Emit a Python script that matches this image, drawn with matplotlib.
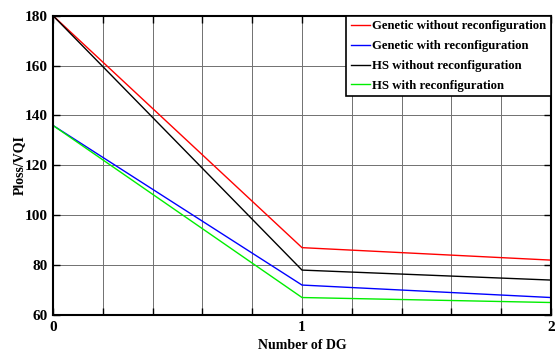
import numpy as np
import matplotlib
matplotlib.use('Agg')
import matplotlib.pyplot as plt

# --- data ---
num_dg = [0, 1, 2]
genetic_no_reconf = [180, 87, 82]
genetic_reconf = [136, 72, 67]
hs_no_reconf = [180, 78, 74]
hs_reconf = [136, 67, 65]

x_ticks = np.round(np.arange(0, 2.01, 0.2), 1)
x_tick_labels = ['0', '', '', '', '', '1', '', '', '', '', '2']
y_ticks = [60, 80, 100, 120, 140, 160, 180]

plt.rcParams['font.family'] = ['Liberation Serif', 'DejaVu Serif']
plt.rcParams['font.weight'] = 'bold'

fig = plt.figure(figsize=(5.58, 3.51), dpi=100)
ax = fig.add_axes([0.095, 0.1026, 0.8925, 0.8527])

ax.plot(num_dg, genetic_no_reconf, color='red', lw=1.0, label='Genetic without reconfiguration')
ax.plot(num_dg, genetic_reconf, color='blue', lw=1.0, label='Genetic with reconfiguration')
ax.plot(num_dg, hs_no_reconf, color='black', lw=1.0, label='HS without reconfiguration')
ax.plot(num_dg, hs_reconf, color='#00ee00', lw=1.0, label='HS with reconfiguration')

ax.set_xlim(0, 2)
ax.set_ylim(60, 180)
ax.set_xticks(x_ticks)
ax.set_xticklabels(x_tick_labels)
ax.set_yticks(y_ticks)
ax.grid(True, color='#707070', lw=0.7)
ax.tick_params(direction='in', top=True, right=True, length=5, width=1,
               labelsize=11, pad=4)
for lab in ax.get_xticklabels() + ax.get_yticklabels():
    lab.set_fontweight('bold')
for s in ax.spines.values():
    s.set_linewidth(1.5)

ax.set_xlabel('Number of DG', fontsize=10, fontweight='bold', labelpad=4)
ax.set_ylabel('Ploss/VQI', fontsize=10, fontweight='bold', labelpad=-1)

leg = ax.legend(loc='upper right', fontsize=9.2, fancybox=False, framealpha=1,
                edgecolor='black', handlelength=1.5, handletextpad=0.2,
                labelspacing=0.62, borderaxespad=0, borderpad=0.35)
leg.get_frame().set_linewidth(1.2)
for t in leg.get_texts():
    t.set_fontweight('bold')

fig.savefig('out.png', dpi=100)
